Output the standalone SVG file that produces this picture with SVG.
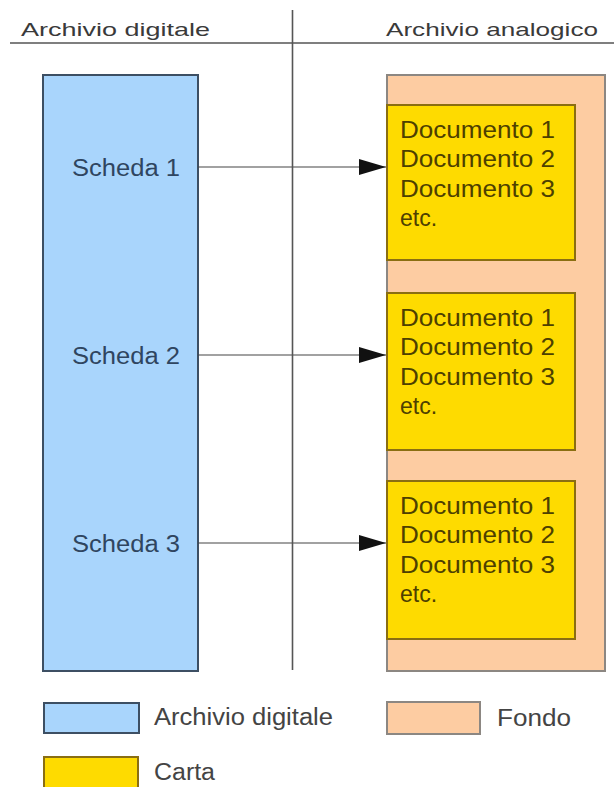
<svg xmlns="http://www.w3.org/2000/svg" width="614" height="787" viewBox="0 0 614 787">
<style>
.t{font-family:"Liberation Sans",Arial,sans-serif;}
.hdr{font-size:19px;fill:#3a3a3a;}
.sch{font-size:23px;fill:#2f4560;}
.doc{font-size:23px;fill:#4d4000;}
.leg{font-size:23.5px;fill:#444;}
.blue{fill:#a9d5fc;stroke:#3d4f63;stroke-width:2;}
.fondo{fill:#fdcca2;stroke:#8c8782;stroke-width:2;}
.carta{fill:#fedb00;stroke:#8a6e12;stroke-width:2;}
.rule{stroke:#555;stroke-width:1.6;fill:none;}
.conn{stroke:#444;stroke-width:1.2;fill:none;}
</style>
<defs>
<marker id="ah" markerUnits="userSpaceOnUse" markerWidth="28" markerHeight="18" refX="27" refY="8" orient="auto">
<path d="M0,0 L27,8 L0,16 z" fill="#111"/>
</marker>
</defs>
<rect width="614" height="787" fill="#fff"/>
<g id="headers">
<text class="t hdr" x="21" y="36" textLength="189" lengthAdjust="spacingAndGlyphs">Archivio digitale</text>
<text class="t hdr" x="386" y="36" textLength="212" lengthAdjust="spacingAndGlyphs">Archivio analogico</text>
<line class="rule" x1="10" y1="43" x2="614" y2="43"/>
</g>
<g id="archivio-digitale">
<rect class="blue" x="43" y="75" width="155" height="596"/>
</g>
<g id="fondo">
<rect class="fondo" x="387" y="75" width="218" height="596"/>
</g>
<g id="scheda-1">
<text class="t sch" x="72" y="176" textLength="108" lengthAdjust="spacingAndGlyphs">Scheda 1</text>
</g>
<g id="scheda-2">
<text class="t sch" x="72" y="364" textLength="108" lengthAdjust="spacingAndGlyphs">Scheda 2</text>
</g>
<g id="scheda-3">
<text class="t sch" x="72" y="552" textLength="108" lengthAdjust="spacingAndGlyphs">Scheda 3</text>
</g>
<g id="carta-1">
<rect class="carta" x="387" y="105" width="188" height="155"/>
<text class="t doc" x="400" y="137.5" textLength="155" lengthAdjust="spacingAndGlyphs">Documento 1</text>
<text class="t doc" x="400" y="167" textLength="155" lengthAdjust="spacingAndGlyphs">Documento 2</text>
<text class="t doc" x="400" y="196.5" textLength="155" lengthAdjust="spacingAndGlyphs">Documento 3</text>
<text class="t doc" x="400" y="226">etc.</text>
</g>
<g id="carta-2">
<rect class="carta" x="387" y="293" width="188" height="157"/>
<text class="t doc" x="400" y="325.5" textLength="155" lengthAdjust="spacingAndGlyphs">Documento 1</text>
<text class="t doc" x="400" y="355" textLength="155" lengthAdjust="spacingAndGlyphs">Documento 2</text>
<text class="t doc" x="400" y="384.5" textLength="155" lengthAdjust="spacingAndGlyphs">Documento 3</text>
<text class="t doc" x="400" y="414">etc.</text>
</g>
<g id="carta-3">
<rect class="carta" x="387" y="481" width="188" height="158"/>
<text class="t doc" x="400" y="513.5" textLength="155" lengthAdjust="spacingAndGlyphs">Documento 1</text>
<text class="t doc" x="400" y="543" textLength="155" lengthAdjust="spacingAndGlyphs">Documento 2</text>
<text class="t doc" x="400" y="572.5" textLength="155" lengthAdjust="spacingAndGlyphs">Documento 3</text>
<text class="t doc" x="400" y="602">etc.</text>
</g>
<g id="connectors">
<line class="conn" x1="198" y1="167" x2="386" y2="167" marker-end="url(#ah)"/>
<line class="conn" x1="198" y1="355" x2="386" y2="355" marker-end="url(#ah)"/>
<line class="conn" x1="198" y1="543" x2="386" y2="543" marker-end="url(#ah)"/>
</g>
<g id="divider">
<line class="rule" x1="292.5" y1="10" x2="292.5" y2="670"/>
</g>
<g id="legend">
<rect class="blue" x="44" y="703" width="95" height="30"/>
<text class="t leg" x="154" y="725" textLength="179" lengthAdjust="spacingAndGlyphs">Archivio digitale</text>
<rect class="fondo" x="387" y="702" width="93" height="32"/>
<text class="t leg" x="497" y="726" textLength="74" lengthAdjust="spacingAndGlyphs">Fondo</text>
<rect class="carta" x="44" y="757" width="94" height="32"/>
<text class="t leg" x="154" y="780" textLength="61" lengthAdjust="spacingAndGlyphs">Carta</text>
</g>
</svg>
